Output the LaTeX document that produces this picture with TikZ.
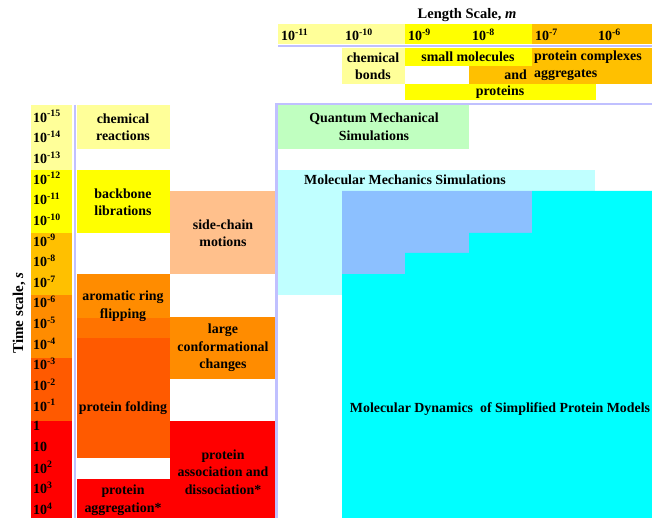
\documentclass[tikz,border=0pt]{standalone}
\usepackage{fontspec}
\setmainfont{Liberation Serif}
\definecolor{ly}{HTML}{FFFF99}
\definecolor{yy}{HTML}{FFFF00}
\definecolor{oy}{HTML}{FFC000}
\definecolor{orr}{HTML}{FF8C00}
\definecolor{om}{HTML}{FF7300}
\definecolor{od}{HTML}{FF5A00}
\definecolor{rd}{HTML}{FF0000}
\definecolor{lo}{HTML}{FFC08C}
\definecolor{lg}{HTML}{C0FFC0}
\definecolor{lc}{HTML}{C0FFFF}
\definecolor{bl}{HTML}{8CC0FF}
\definecolor{cy}{HTML}{00FFFF}
\definecolor{lav}{HTML}{C0C0FF}
\begin{document}
\begin{tikzpicture}[x=1pt,y=-1pt,
  lbl/.style={font=\bfseries\fontsize{13.9}{17.5}\selectfont, align=center, inner sep=0pt},
  tl/.style={font=\bfseries\fontsize{14}{16}\selectfont, anchor=west, inner sep=0pt},
  sep/.style={draw=lav, line width=2.6pt}]
\useasboundingbox (0,0) rectangle (652,518);
% header length scale
\fill[ly] (278,24) rectangle (405,44);
\fill[yy] (405,24) rectangle (532,44);
\fill[oy] (532,24) rectangle (652,44);
\fill[ly] (342,48) rectangle (405,84);
\fill[yy] (405,48) rectangle (532,66);
\fill[oy] (532,48) rectangle (652,84);
\fill[oy] (469,66) rectangle (532,84);
\fill[yy] (405,84) rectangle (596,100);
% time column
\fill[ly] (31,105) rectangle (72,170);
\fill[yy] (31,170) rectangle (72,233);
\fill[oy] (31,233) rectangle (72,295);
\fill[orr] (31,295) rectangle (72,358);
\fill[od] (31,358) rectangle (72,421);
\fill[rd] (31,421) rectangle (72,518);
% column 1
\fill[ly] (77,105) rectangle (170,149);
\fill[yy] (77,170) rectangle (170,233);
\fill[orr] (77,274) rectangle (170,318);
\fill[om] (77,318) rectangle (170,338);
\fill[od] (77,338) rectangle (170,458);
\fill[rd] (77,479) rectangle (170,518);
% column 2
\fill[lo] (170,191) rectangle (276,274);
\fill[orr] (170,317) rectangle (276,379);
\fill[rd] (170,421) rectangle (276,518);
% simulations
\fill[lg] (278,105) rectangle (469,149);
\fill[lc] (278,170) rectangle (595,295);
\fill[bl] (342,191) -- (532,191) -- (532,233) -- (469,233) -- (469,253) -- (405,253) -- (405,274) -- (342,274) -- cycle;
\fill[cy] (532,191) -- (652,191) -- (652,518) -- (342,518) -- (342,274) -- (405,274) -- (405,253) -- (469,253) -- (469,233) -- (532,233) -- cycle;
% separator lines
\coordinate (h1a) at (278,46); \coordinate (h1b) at (652,46);
\coordinate (h2a) at (276.5,104); \coordinate (h2b) at (652,104);
\coordinate (v1b) at (276.5,518);
\coordinate (v2a) at (75,105); \coordinate (v2b) at (75,518);
\draw[sep] (h1a) -- (h1b);
\draw[sep] (v1b) -- (h2a) -- (h2b);
\draw[sep] (v2a) -- (v2b);
% titles
\node[lbl, font=\bfseries\fontsize{14.5}{17}\selectfont] (lenT) at (467,15) {Length Scale, \textit{m}};
\node[lbl, font=\bfseries\fontsize{15}{17}\selectfont, rotate=90] (timeT) at (19,313) {Time scale, \textit{s}};
% length labels
\foreach \e/\x in {-11/281,-10/345,-9/408,-8/472,-7/535,-6/598}
  \node[tl] (L\e) at (\x,35) {10\textsuperscript{\e}};
% time labels
\foreach \e [count=\i from 0] in {-15,-14,-13,-12,-11,-10,-9,-8,-7,-6,-5,-4,-3,-2,-1}
  \node[tl] (T\i) at (33,{106+(\i+0.5)*20.65}) {10\textsuperscript{\e}};
\node[tl] (T15) at (33,{106+15.5*20.65}) {1};
\node[tl] (T16) at (33,{106+16.5*20.65}) {10};
\node[tl] (T17) at (33,{106+17.5*20.65}) {10\textsuperscript{2}};
\node[tl] (T18) at (33,{106+18.5*20.65}) {10\textsuperscript{3}};
\node[tl] (T19) at (33,{106+19.5*20.65}) {10\textsuperscript{4}};
% header texts
\node[lbl] (cb) at (373,66) {chemical\\bonds};
\node[lbl] (sm) at (468,57) {small molecules};
\node[lbl, anchor=east] (and) at (527,75) {and};
\node[lbl] (pr) at (500,92) {proteins};
\node[lbl, anchor=west] (pc) at (534,57) {protein complexes};
\node[lbl, anchor=west] (ag) at (534,75) {aggregates};
% column texts
\node[lbl] (cr) at (123,127) {chemical\\reactions};
\node[lbl] (bb) at (123,202) {backbone\\librations};
\node[lbl] (ar) at (123,306) {aromatic ring\\flipping};
\node[lbl] (pf) at (123,408) {protein folding};
\node[lbl] (pa) at (123,500) {protein\\aggregation*};
\node[lbl] (sc) at (223,233) {side-chain\\motions};
\node[lbl] (lc) at (223,348) {large\\conformational\\changes};
\node[lbl] (pad) at (223,472) {protein\\association and\\dissociation*};
% simulation texts
\node[lbl] (qm) at (374,127) {Quantum Mechanical\\Simulations};
\node[lbl] (mm) at (405,180) {Molecular Mechanics Simulations};
\node[lbl] (md) at (500,409) {Molecular Dynamics\ \ of Simplified Protein Models};
\end{tikzpicture}
\end{document}
